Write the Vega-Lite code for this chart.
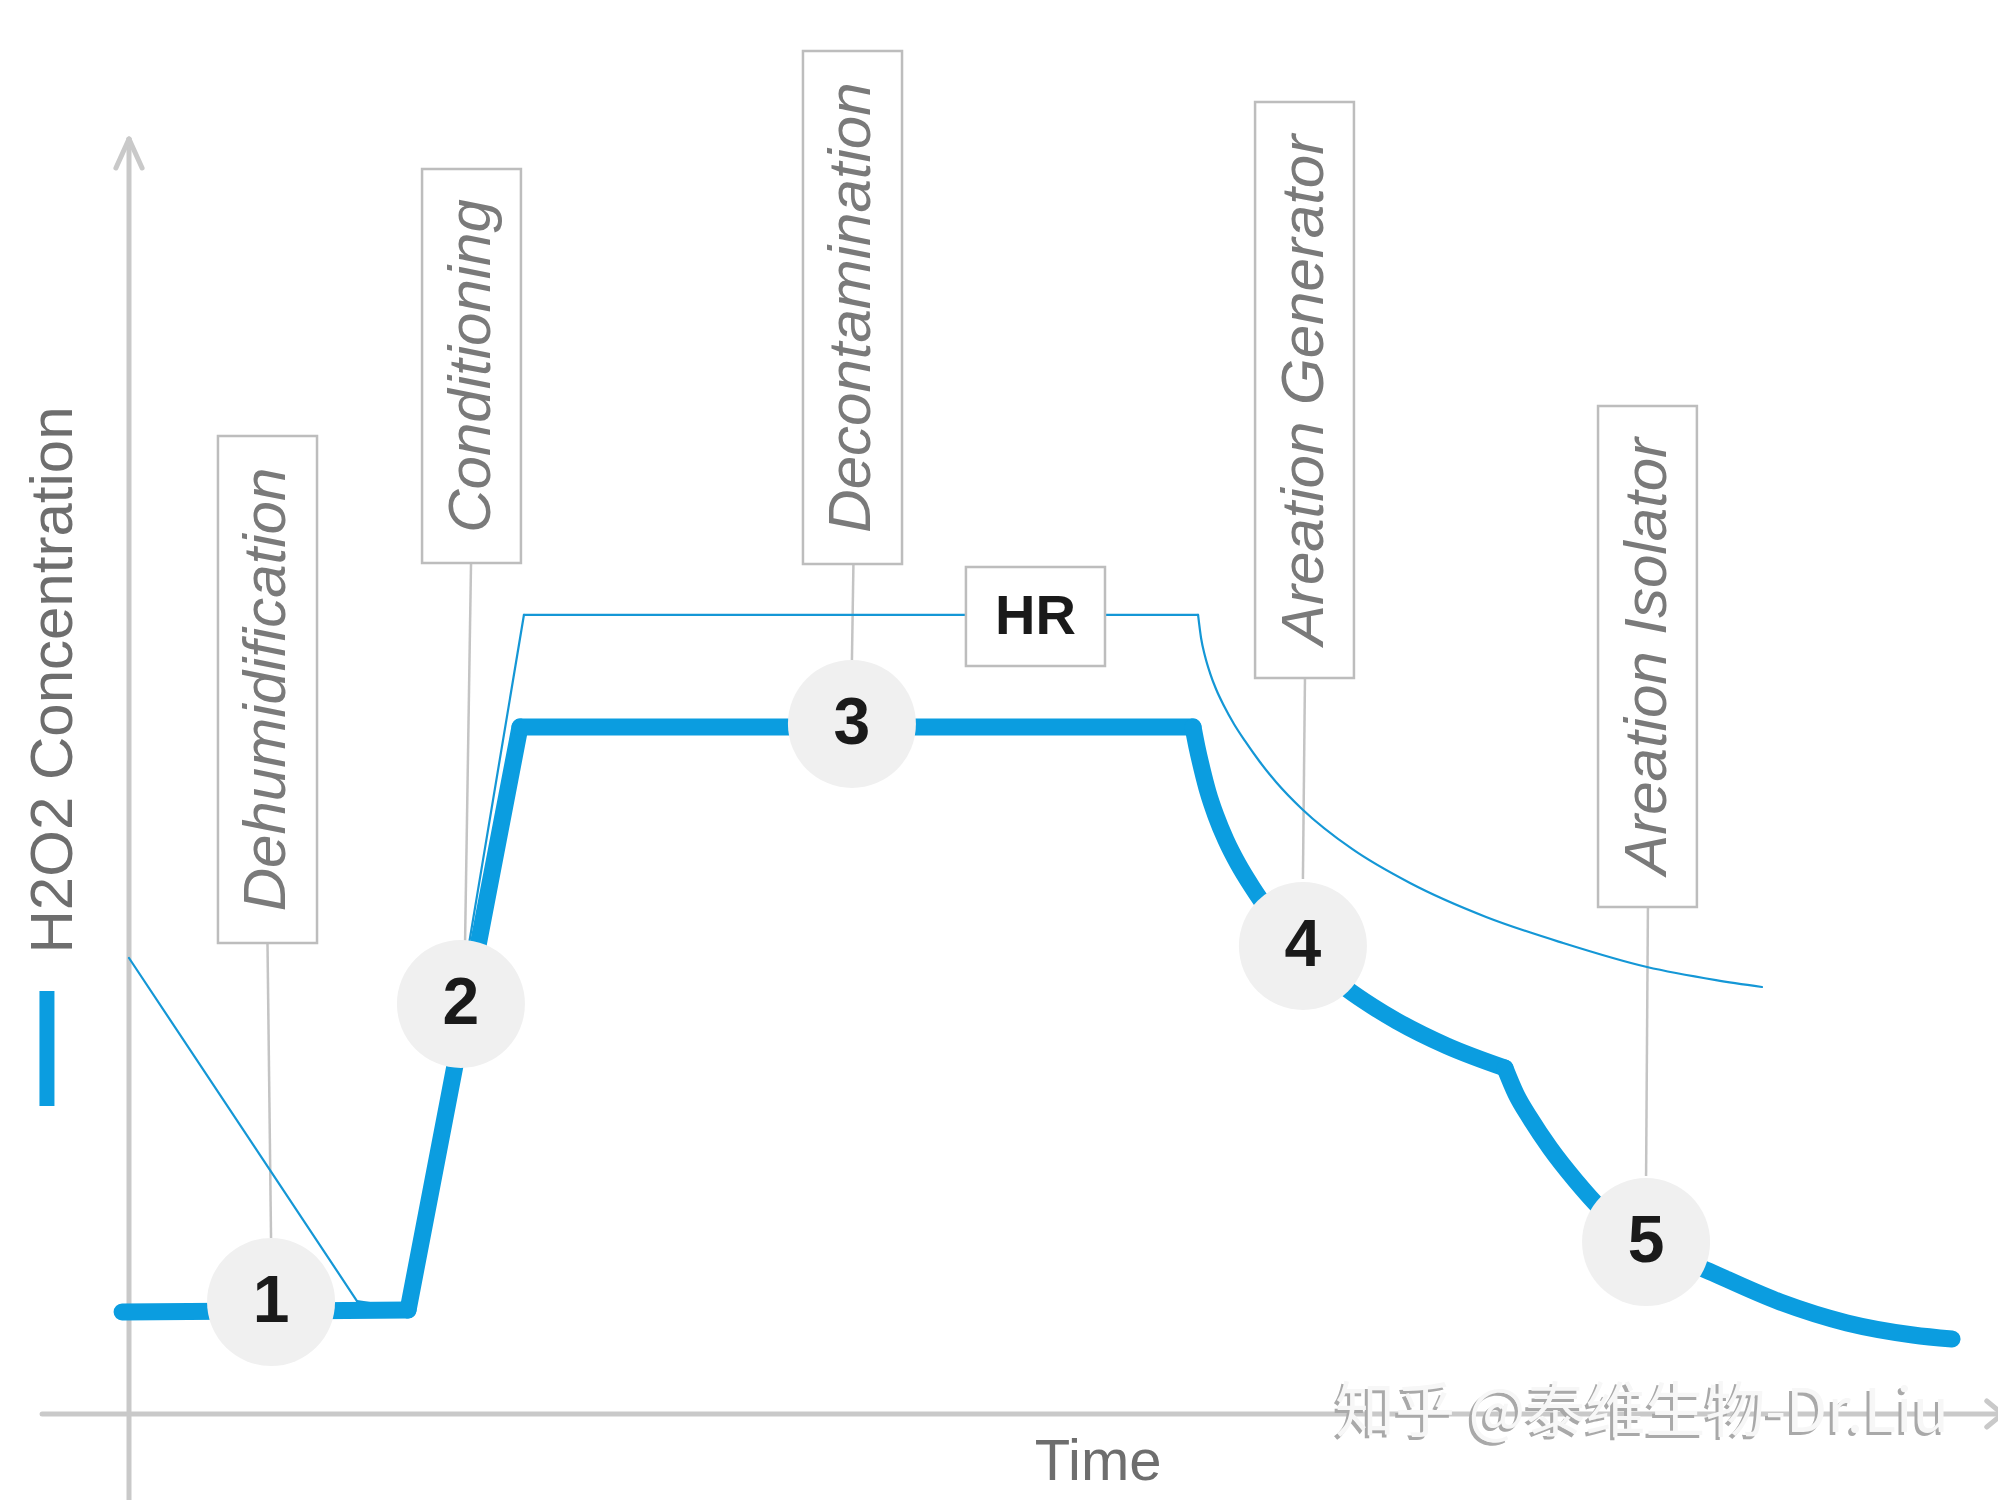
{
  "$schema": "https://vega.github.io/schema/vega-lite/v6.json",
  "width": 1998,
  "height": 1500,
  "autosize": {"type": "none"},
  "padding": 0,
  "background": "white",
  "config": {"view": {"stroke": null}},
  "datasets": {
    "axes": [
      {"part": "y axis", "t1": 0, "c1": -6.2, "t2": 0, "c2": 90.17},
      {"part": "x axis", "t1": -4.65, "c1": 0, "t2": 100.5, "c2": 0},
      {"part": "y arrow left", "t1": -0.7, "c1": 88.12, "t2": 0, "c2": 90.17},
      {"part": "y arrow right", "t1": 0.7, "c1": 88.12, "t2": 0, "c2": 90.17},
      {"part": "x arrow top", "t1": 99.4, "c1": 0.92, "t2": 100.25, "c2": 0},
      {"part": "x arrow bottom", "t1": 99.4, "c1": -0.92, "t2": 100.25, "c2": 0}
    ],
    "leaders": [
      {"phase": "Dehumidification", "t1": 7.41, "c1": 33.31, "t2": 7.6, "c2": 12.45},
      {"phase": "Conditioning", "t1": 18.3, "c1": 60.18, "t2": 17.98, "c2": 33.31},
      {"phase": "Decontamination", "t1": 38.76, "c1": 60.11, "t2": 38.68, "c2": 53.32},
      {"phase": "Areation Generator", "t1": 62.92, "c1": 52.05, "t2": 62.81, "c2": 37.84},
      {"phase": "Areation Isolator", "t1": 81.27, "c1": 35.86, "t2": 81.17, "c2": 16.83}
    ],
    "hr": [
      {"seg": "a", "i": 1, "t": 0, "c": 32.25},
      {"seg": "a", "i": 2, "t": 12.2, "c": 7.99},
      {"seg": "b", "i": 1, "t": 12.2, "c": 7.99},
      {"seg": "b", "i": 2, "t": 14.93, "c": 7.43},
      {"seg": "c", "i": 1, "t": 14.93, "c": 7.43},
      {"seg": "c", "i": 2, "t": 21.13, "c": 56.51},
      {"seg": "d", "i": 1, "t": 21.13, "c": 56.51},
      {"seg": "d", "i": 2, "t": 57.2, "c": 56.51},
      {"seg": "e", "i": 1, "t": 57.2, "c": 56.51},
      {"seg": "e", "i": 2, "t": 57.36, "c": 54.88},
      {"seg": "e", "i": 3, "t": 57.57, "c": 53.61},
      {"seg": "e", "i": 4, "t": 57.84, "c": 52.4},
      {"seg": "e", "i": 5, "t": 58.16, "c": 51.27},
      {"seg": "e", "i": 6, "t": 58.59, "c": 50.07},
      {"seg": "e", "i": 7, "t": 59.12, "c": 48.8},
      {"seg": "e", "i": 8, "t": 59.71, "c": 47.6},
      {"seg": "e", "i": 9, "t": 60.51, "c": 46.11},
      {"seg": "e", "i": 10, "t": 61.37, "c": 44.7},
      {"seg": "e", "i": 11, "t": 62.76, "c": 42.79},
      {"seg": "e", "i": 12, "t": 65.44, "c": 39.96},
      {"seg": "e", "i": 13, "t": 68.54, "c": 37.55},
      {"seg": "e", "i": 14, "t": 72.61, "c": 35.15},
      {"seg": "e", "i": 15, "t": 76.73, "c": 33.31},
      {"seg": "e", "i": 16, "t": 81.22, "c": 31.61},
      {"seg": "e", "i": 17, "t": 84.91, "c": 30.69},
      {"seg": "e", "i": 18, "t": 87.37, "c": 30.2}
    ],
    "h2o2": [
      {"seg": "A", "i": 1, "t": -0.37, "c": 7.21},
      {"seg": "A", "i": 2, "t": 14.93, "c": 7.35},
      {"seg": "B", "i": 1, "t": 14.93, "c": 7.35},
      {"seg": "B", "i": 2, "t": 20.92, "c": 48.59},
      {"seg": "C", "i": 1, "t": 20.92, "c": 48.59},
      {"seg": "C", "i": 2, "t": 56.93, "c": 48.59},
      {"seg": "D", "i": 1, "t": 56.93, "c": 48.59},
      {"seg": "D", "i": 2, "t": 57.14, "c": 47.17},
      {"seg": "D", "i": 3, "t": 57.41, "c": 45.62},
      {"seg": "D", "i": 4, "t": 57.73, "c": 43.99},
      {"seg": "D", "i": 5, "t": 58.16, "c": 42.29},
      {"seg": "D", "i": 6, "t": 58.69, "c": 40.59},
      {"seg": "D", "i": 7, "t": 59.34, "c": 38.9},
      {"seg": "D", "i": 8, "t": 60.09, "c": 37.27},
      {"seg": "D", "i": 9, "t": 60.94, "c": 35.64},
      {"seg": "D", "i": 10, "t": 61.9, "c": 34.16},
      {"seg": "D", "i": 11, "t": 62.92, "c": 32.67},
      {"seg": "D", "i": 12, "t": 63.99, "c": 31.33},
      {"seg": "D", "i": 13, "t": 65.17, "c": 30.06},
      {"seg": "D", "i": 14, "t": 66.51, "c": 28.85},
      {"seg": "D", "i": 15, "t": 67.84, "c": 27.79},
      {"seg": "D", "i": 16, "t": 70.52, "c": 26.03},
      {"seg": "D", "i": 17, "t": 73.62, "c": 24.47},
      {"seg": "E", "i": 1, "t": 73.62, "c": 24.47},
      {"seg": "E", "i": 2, "t": 74.21, "c": 22.63},
      {"seg": "E", "i": 3, "t": 74.96, "c": 20.93},
      {"seg": "E", "i": 4, "t": 76.03, "c": 18.81},
      {"seg": "E", "i": 5, "t": 77.37, "c": 16.55},
      {"seg": "E", "i": 6, "t": 78.71, "c": 14.57},
      {"seg": "E", "i": 7, "t": 81.17, "c": 12.16},
      {"seg": "E", "i": 8, "t": 84.75, "c": 9.97},
      {"seg": "E", "i": 9, "t": 88.34, "c": 7.92},
      {"seg": "E", "i": 10, "t": 91.92, "c": 6.44},
      {"seg": "E", "i": 11, "t": 95.45, "c": 5.59},
      {"seg": "E", "i": 12, "t": 97.54, "c": 5.3}
    ],
    "boxes": [
      {"name": "Dehumidification", "t1": 4.76, "t2": 10.06, "c1": 69.17, "c2": 33.31},
      {"name": "Conditioning", "t1": 15.68, "t2": 20.97, "c1": 88.05, "c2": 60.18},
      {"name": "Decontamination", "t1": 36.06, "t2": 41.36, "c1": 96.39, "c2": 60.11},
      {"name": "Areation Generator", "t1": 60.25, "t2": 65.54, "c1": 92.79, "c2": 52.05},
      {"name": "Areation Isolator", "t1": 78.6, "t2": 83.89, "c1": 71.29, "c2": 35.86},
      {"name": "HR", "t1": 44.78, "t2": 52.22, "c1": 59.9, "c2": 52.9}
    ],
    "phases": [
      {"label": "Dehumidification", "t": 7.41, "c": 51.24},
      {"label": "Conditioning", "t": 18.33, "c": 74.12},
      {"label": "Decontamination", "t": 38.71, "c": 78.25},
      {"label": "Areation Generator", "t": 62.9, "c": 72.42},
      {"label": "Areation Isolator", "t": 81.25, "c": 53.58}
    ],
    "steps": [
      {"step": "1", "t": 7.6, "c": 7.92},
      {"step": "2", "t": 17.76, "c": 29.0},
      {"step": "3", "t": 38.68, "c": 48.8},
      {"step": "4", "t": 62.81, "c": 33.1},
      {"step": "5", "t": 81.17, "c": 12.16}
    ],
    "hrlabel": [{"label": "HR", "t": 48.5, "c": 56.4}],
    "xtitle": [{"label": "Time", "t": 51.85, "c": -3.47}],
    "ytitle": [{"label": "H2O2 Concentration", "t": -4.01, "c": 51.91}],
    "legend": [{"series": "H2O2 Concentration", "t": -4.39, "c1": 21.78, "c2": 29.92}],
    "mark": [{"label": "知乎 @泰维生物-Dr.Liu", "t": 80.95, "c": 0}]
  },
  "layer": [
    {
      "data": {"name": "axes"},
      "mark": {"type": "rule", "color": "#c9c9c9", "strokeWidth": 5, "strokeCap": "round"},
      "encoding": {
        "x": {"field": "t1", "type": "quantitative", "scale": {"domain": [-6.902, 100], "nice": false, "zero": false}, "axis": null},
        "y": {"field": "c1", "type": "quantitative", "scale": {"domain": [-6.082, 100], "nice": false, "zero": false}, "axis": null},
        "x2": {"field": "t2"},
        "y2": {"field": "c2"}
      }
    },
    {
      "data": {"name": "leaders"},
      "mark": {"type": "rule", "color": "#c4c4c4", "strokeWidth": 2.5},
      "encoding": {
        "x": {"field": "t1", "type": "quantitative"},
        "y": {"field": "c1", "type": "quantitative"},
        "x2": {"field": "t2"},
        "y2": {"field": "c2"}
      }
    },
    {
      "data": {"name": "hr"},
      "mark": {"type": "line", "color": "#1497d6", "strokeWidth": 2.2, "interpolate": "monotone", "strokeJoin": "round", "strokeCap": "round"},
      "encoding": {
        "x": {"field": "t", "type": "quantitative"},
        "y": {"field": "c", "type": "quantitative"},
        "detail": {"field": "seg"},
        "order": {"field": "i", "type": "quantitative"}
      }
    },
    {
      "data": {"name": "h2o2"},
      "mark": {"type": "line", "color": "#0b9de0", "strokeWidth": 17, "interpolate": "monotone", "strokeJoin": "round", "strokeCap": "round"},
      "encoding": {
        "x": {"field": "t", "type": "quantitative"},
        "y": {"field": "c", "type": "quantitative"},
        "detail": {"field": "seg"},
        "order": {"field": "i", "type": "quantitative"}
      }
    },
    {
      "data": {"name": "boxes"},
      "mark": {"type": "rect", "fill": "white", "stroke": "#bdbdbd", "strokeWidth": 2.5},
      "encoding": {
        "x": {"field": "t1", "type": "quantitative"},
        "x2": {"field": "t2"},
        "y": {"field": "c1", "type": "quantitative"},
        "y2": {"field": "c2"}
      }
    },
    {
      "data": {"name": "phases"},
      "mark": {"type": "text", "angle": 270, "align": "center", "baseline": "middle", "font": "Liberation Sans", "fontStyle": "italic", "fontSize": 60, "color": "#7a7a7a"},
      "encoding": {
        "x": {"field": "t", "type": "quantitative"},
        "y": {"field": "c", "type": "quantitative"},
        "text": {"field": "label"}
      }
    },
    {
      "data": {"name": "hrlabel"},
      "mark": {"type": "text", "align": "center", "baseline": "middle", "font": "Liberation Sans", "fontWeight": "bold", "fontSize": 56, "color": "#1a1a1a"},
      "encoding": {
        "x": {"field": "t", "type": "quantitative"},
        "y": {"field": "c", "type": "quantitative"},
        "text": {"field": "label"}
      }
    },
    {
      "data": {"name": "steps"},
      "mark": {"type": "circle", "size": 16384, "color": "#f0f0f0", "opacity": 1},
      "encoding": {
        "x": {"field": "t", "type": "quantitative"},
        "y": {"field": "c", "type": "quantitative"}
      }
    },
    {
      "data": {"name": "steps"},
      "mark": {"type": "text", "align": "center", "baseline": "middle", "font": "Liberation Sans", "fontWeight": "bold", "fontSize": 66, "color": "#1a1a1a"},
      "encoding": {
        "x": {"field": "t", "type": "quantitative"},
        "y": {"field": "c", "type": "quantitative"},
        "text": {"field": "step"}
      }
    },
    {
      "data": {"name": "xtitle"},
      "mark": {"type": "text", "align": "center", "baseline": "middle", "font": "Liberation Sans", "fontSize": 58, "color": "#6e6e6e"},
      "encoding": {
        "x": {"field": "t", "type": "quantitative"},
        "y": {"field": "c", "type": "quantitative"},
        "text": {"field": "label"}
      }
    },
    {
      "data": {"name": "ytitle"},
      "mark": {"type": "text", "angle": 270, "align": "center", "baseline": "middle", "font": "Liberation Sans", "fontSize": 60, "color": "#6e6e6e"},
      "encoding": {
        "x": {"field": "t", "type": "quantitative"},
        "y": {"field": "c", "type": "quantitative"},
        "text": {"field": "label"}
      }
    },
    {
      "data": {"name": "legend"},
      "mark": {"type": "rule", "color": "#0b9de0", "strokeWidth": 15, "strokeCap": "butt"},
      "encoding": {
        "x": {"field": "t", "type": "quantitative"},
        "y": {"field": "c1", "type": "quantitative"},
        "y2": {"field": "c2"}
      }
    },
    {
      "data": {"name": "mark"},
      "mark": {"type": "text", "align": "center", "baseline": "middle", "font": "Noto Sans CJK SC", "fontSize": 60, "color": "#a9a9a9", "dx": -3, "dy": 3},
      "encoding": {
        "x": {"field": "t", "type": "quantitative"},
        "y": {"field": "c", "type": "quantitative"},
        "text": {"field": "label"}
      }
    },
    {
      "data": {"name": "mark"},
      "mark": {"type": "text", "align": "center", "baseline": "middle", "font": "Noto Sans CJK SC", "fontSize": 60, "color": "#f7f7f7"},
      "encoding": {
        "x": {"field": "t", "type": "quantitative"},
        "y": {"field": "c", "type": "quantitative"},
        "text": {"field": "label"}
      }
    }
  ]
}
